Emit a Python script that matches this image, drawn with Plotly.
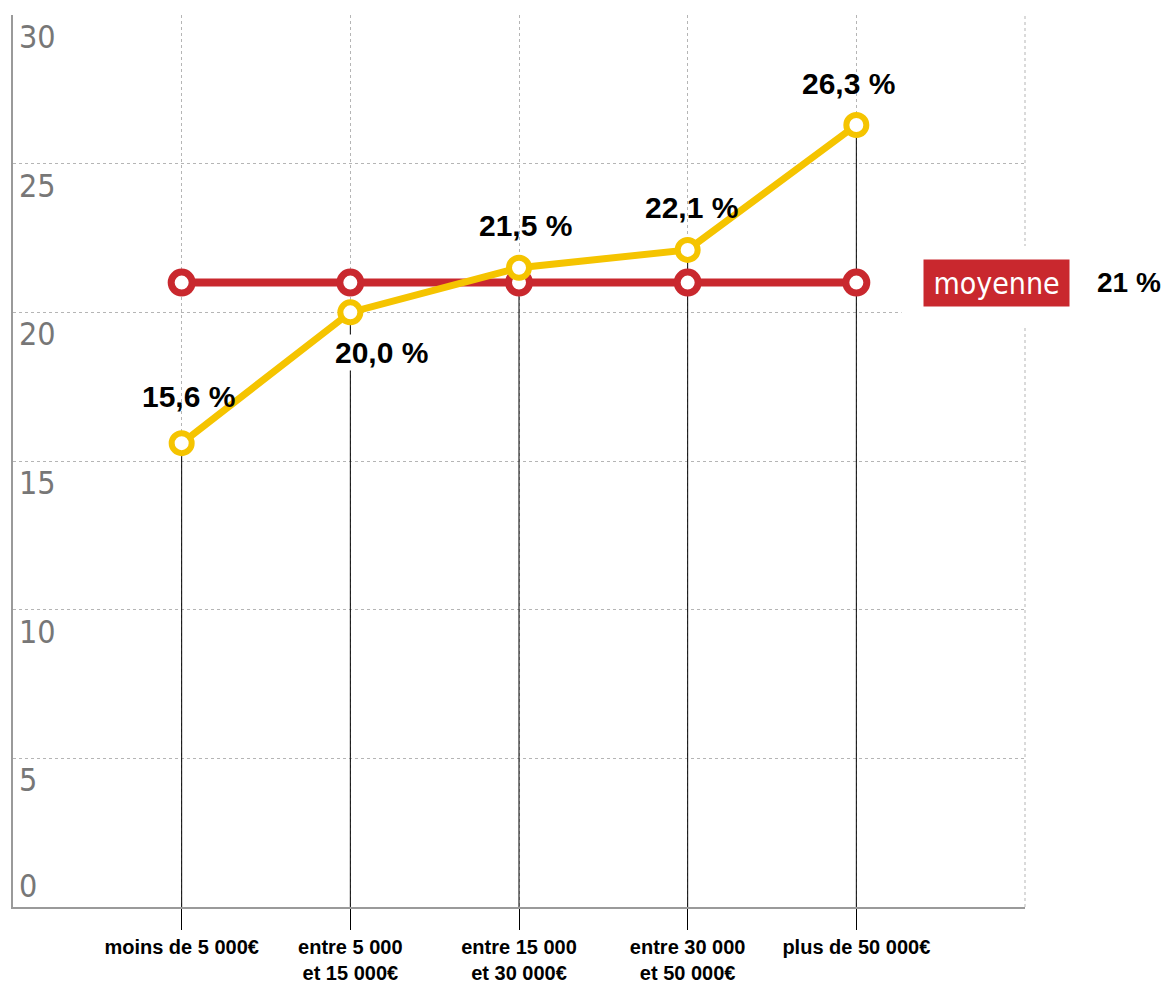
import plotly.graph_objects as go

# ------- data ----------
categories = ["moins de 5 000€", "entre 5 000<br>et 15 000€", "entre 15 000<br>et 30 000€",
              "entre 30 000<br>et 50 000€", "plus de 50 000€"]
taux = [15.6, 20.0, 21.5, 22.1, 26.3]
moyenne = 21
y_ticks = [0, 5, 10, 15, 20, 25, 30]

# label placement: (xshift, yshift) per point
label_shift = [(7, 47), (31, -40), (6, 42), (4, 42), (-8, 42)]

YELLOW = "#F5C400"
RED = "#C9282E"
BOLD = dict(family="Liberation Sans, Arial", color="black", weight="bold")
NARROW = "Liberation Sans Narrow, DejaVu Sans Condensed, sans-serif"
xs = list(range(len(categories)))

fig = go.Figure()

# thin black drop lines from each yellow point to the axis
drop_x, drop_y = [], []
for x, v in zip(xs, taux):
    drop_x += [x, x, None]
    drop_y += [v, 0, None]
fig.add_trace(go.Scatter(x=drop_x, y=drop_y, mode="lines",
                         line=dict(color="black", width=1), hoverinfo="skip"))

# average line
fig.add_trace(go.Scatter(x=xs, y=[moyenne] * len(xs), mode="lines+markers",
                         line=dict(color=RED, width=8),
                         marker=dict(size=21, color="white", line=dict(color=RED, width=7))))

# income brackets
fig.add_trace(go.Scatter(x=xs, y=taux, mode="lines+markers",
                         line=dict(color=YELLOW, width=7),
                         marker=dict(size=20, color="white", line=dict(color=YELLOW, width=6))))

for x, v, (dx, dy) in zip(xs, taux, label_shift):
    fig.add_annotation(x=x, y=v, text=f"{v:.1f} %".replace(".", ","), showarrow=False,
                       xshift=dx, yshift=dy, bgcolor="white" if dy < 0 else "rgba(0,0,0,0)",
                       font=dict(BOLD, size=30))

# y tick labels, just under each gridline (the bottom one sits above the axis)
for t in y_ticks:
    fig.add_annotation(xref="paper", x=0, y=t, text=str(t), showarrow=False,
                       xanchor="left", yanchor="middle", xshift=4,
                       yshift=21 if t == y_ticks[0] else -22,
                       font=dict(family=NARROW, size=32, color="#777777"))

# white patch behind the "moyenne" tag
fig.add_shape(type="rect", xref="paper", yref="paper", x0=0.878, x1=1.05, y0=0.651, y1=0.741,
              fillcolor="white", line_width=0, layer="above")
# right border (dotted)
fig.add_shape(type="line", xref="paper", yref="paper", x0=1, x1=1, y0=0, y1=1,
              line=dict(color="#b5b5b5", width=1, dash="dot"), layer="below")

fig.add_annotation(xref="paper", x=0.972, y=moyenne, text="moyenne", showarrow=False,
                   xanchor="center", bgcolor=RED, width=143, height=44,
                   font=dict(family=NARROW, size=30, color="white"))
fig.add_annotation(xref="paper", x=1.103, y=moyenne, text=f"{moyenne} %", showarrow=False,
                   xanchor="center", font=dict(BOLD, size=28))

fig.update_xaxes(
    tickvals=xs, ticktext=categories, range=[-1, 5], automargin=False,
    showgrid=True, gridcolor="#b5b5b5", griddash="dot", gridwidth=1,
    showline=True, linecolor="#9a9a9a", linewidth=2,
    ticks="outside", ticklen=21, tickcolor="black", tickwidth=1, ticklabelstandoff=0,
    tickfont=dict(BOLD, size=20),
    zeroline=False,
)
fig.update_yaxes(
    tickvals=y_ticks, range=[0, 30], automargin=False, showticklabels=False,
    showgrid=True, gridcolor="#b5b5b5", griddash="dot", gridwidth=1,
    showline=True, linecolor="#9a9a9a", linewidth=2,
    ticks="", zeroline=False,
)

# the page adds an 8 px body margin, so the figure is sized to sit inside the window
fig.update_layout(
    width=1163, height=977,
    margin=dict(l=5, r=146, t=7, b=78),
    plot_bgcolor="white", paper_bgcolor="white",
    showlegend=False,
)

fig.write_html("out.html")
